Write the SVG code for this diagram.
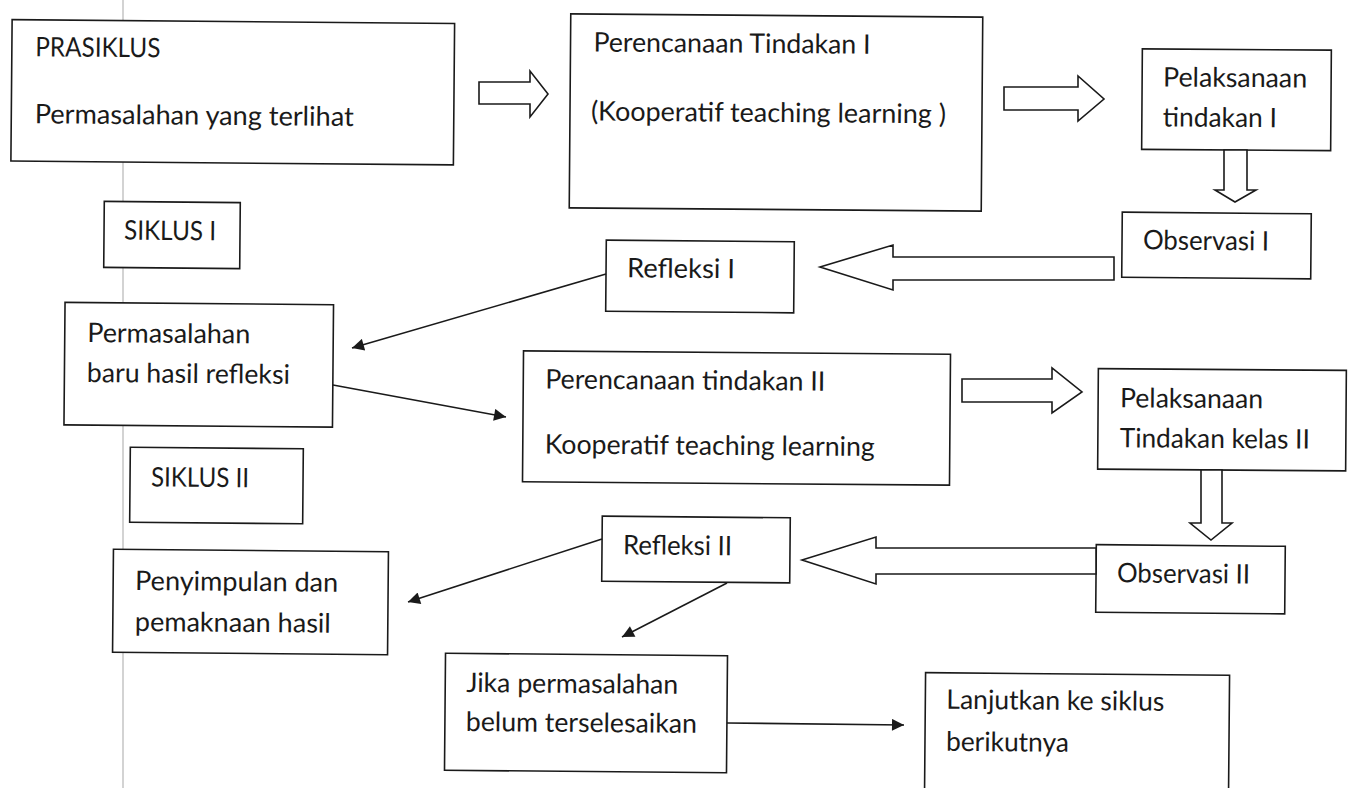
<svg xmlns="http://www.w3.org/2000/svg" width="1348" height="788" viewBox="0 0 1348 788">
<style>
.bx{fill:#fff;stroke:#1a1a1a;stroke-width:1.6}
.t{font-family:Lato,"Liberation Sans",sans-serif;font-size:27px;fill:#1a1a1a}
.ha{fill:#fff;stroke:#1a1a1a;stroke-width:1.6;stroke-linejoin:miter}
.ln{fill:none;stroke:#1a1a1a;stroke-width:1.6}
</style>
<defs>
<marker id="ah" viewBox="0 0 10 10" refX="10" refY="5" markerWidth="15" markerHeight="12" markerUnits="userSpaceOnUse" orient="auto"><path d="M0,0 L10,5 L0,10 z" fill="#1a1a1a"/></marker>
</defs>
<rect width="1348" height="788" fill="#fff"/>
<line x1="123" y1="0" x2="123" y2="788" stroke="#c4c4c4" stroke-width="1.5"/>

<g id="prasiklus" transform="rotate(0.5 233 92)">
<rect class="bx" x="11.5" y="21.5" width="442.5" height="141.5"/>
<text class="t" x="35" y="58" textLength="125" lengthAdjust="spacingAndGlyphs">PRASIKLUS</text>
<text class="t" x="35" y="125" textLength="319" lengthAdjust="spacingAndGlyphs">Permasalahan yang terlihat</text>
</g>
<g id="perencanaan1" transform="rotate(0.45 776 112)">
<rect class="bx" x="570" y="15.5" width="412" height="194"/>
<text class="t" x="593" y="53" textLength="277" lengthAdjust="spacingAndGlyphs">Perencanaan Tindakan I</text>
<text class="t" x="591" y="122" textLength="355" lengthAdjust="spacingAndGlyphs">(Kooperatif teaching learning )</text>
</g>
<g id="pelaksanaan1" transform="rotate(0.4 1236 100)">
<rect class="bx" x="1142" y="49.5" width="189" height="100.5"/>
<text class="t" x="1163" y="87" textLength="144" lengthAdjust="spacingAndGlyphs">Pelaksanaan</text>
<text class="t" x="1163" y="127" textLength="114" lengthAdjust="spacingAndGlyphs">tindakan I</text>
</g>
<g id="observasi1" transform="rotate(0.5 1216 245)">
<rect class="bx" x="1122" y="213" width="189" height="65"/>
<text class="t" x="1143" y="250" textLength="126" lengthAdjust="spacingAndGlyphs">Observasi I</text>
</g>
<g id="refleksi1" transform="rotate(0.5 700 276)">
<rect class="bx" x="606" y="241" width="188" height="71"/>
<text class="t" x="627" y="278" textLength="108" lengthAdjust="spacingAndGlyphs">Refleksi  I</text>
</g>
<g id="siklus1" transform="rotate(0.5 172 235)">
<rect class="bx" x="104" y="202" width="136" height="66"/>
<text class="t" x="124" y="240" textLength="92" lengthAdjust="spacingAndGlyphs">SIKLUS I</text>
</g>
<g id="permasalahan-baru" transform="rotate(0.5 198 365)">
<rect class="bx" x="64.5" y="303.5" width="268.5" height="122.5"/>
<text class="t" x="87" y="343" textLength="163" lengthAdjust="spacingAndGlyphs">Permasalahan</text>
<text class="t" x="87" y="383" textLength="203" lengthAdjust="spacingAndGlyphs">baru hasil refleksi</text>
</g>
<g id="siklus2" transform="rotate(0.5 216 485)">
<rect class="bx" x="130" y="448" width="173" height="75"/>
<text class="t" x="151" y="487" textLength="98" lengthAdjust="spacingAndGlyphs">SIKLUS II</text>
</g>
<g id="perencanaan2" transform="rotate(0.45 736 418)">
<rect class="bx" x="523" y="352.5" width="427" height="131"/>
<text class="t" x="545" y="390" textLength="280" lengthAdjust="spacingAndGlyphs">Perencanaan tindakan II</text>
<text class="t" x="545" y="455" textLength="330" lengthAdjust="spacingAndGlyphs">Kooperatif teaching learning</text>
</g>
<g id="pelaksanaan2" transform="rotate(0.4 1222 420)">
<rect class="bx" x="1098" y="369.5" width="248" height="100.5"/>
<text class="t" x="1120" y="408" textLength="143" lengthAdjust="spacingAndGlyphs">Pelaksanaan</text>
<text class="t" x="1120" y="448" textLength="190" lengthAdjust="spacingAndGlyphs">Tindakan kelas II</text>
</g>
<g id="observasi2" transform="rotate(0.5 1190 579)">
<rect class="bx" x="1096" y="545.5" width="189" height="67.5"/>
<text class="t" x="1117" y="583" textLength="133" lengthAdjust="spacingAndGlyphs">Observasi II</text>
</g>
<g id="refleksi2" transform="rotate(0.5 696 549)">
<rect class="bx" x="602" y="517" width="188" height="65"/>
<text class="t" x="623" y="555" textLength="109" lengthAdjust="spacingAndGlyphs">Refleksi II</text>
</g>
<g id="penyimpulan" transform="rotate(0.5 250 602)">
<rect class="bx" x="113" y="550.5" width="275" height="103"/>
<text class="t" x="135" y="591" textLength="203" lengthAdjust="spacingAndGlyphs">Penyimpulan dan</text>
<text class="t" x="135" y="632" textLength="196" lengthAdjust="spacingAndGlyphs">pemaknaan hasil</text>
</g>
<g id="jika" transform="rotate(0.5 586 713)">
<rect class="bx" x="445" y="654.5" width="282" height="117"/>
<text class="t" x="466" y="693" textLength="212" lengthAdjust="spacingAndGlyphs">Jika permasalahan</text>
<text class="t" x="466" y="732" textLength="231" lengthAdjust="spacingAndGlyphs">belum terselesaikan</text>
</g>
<g id="lanjutkan" transform="rotate(0.5 1077 740)">
<rect class="bx" x="925" y="674" width="304" height="130"/>
<text class="t" x="946" y="710" textLength="218" lengthAdjust="spacingAndGlyphs">Lanjutkan ke siklus</text>
<text class="t" x="946" y="752" textLength="123" lengthAdjust="spacingAndGlyphs">berikutnya</text>
</g>

<g id="connectors">
<polygon class="ha" points="479,82 530,82 530,71 548,94 530,117 530,104 479,104"/>
<polygon class="ha" points="1004,87 1078,87 1078,76 1104,99 1078,121 1078,110 1004,110"/>
<polygon class="ha" points="1224,150 1247,150 1247,190 1256,190 1235,202 1215,190 1224,190"/>
<polygon class="ha" points="1114,257 893,257 893,245 820,267 893,290 893,280 1114,280"/>
<polygon class="ha" points="962,379 1052,379 1052,368 1082,392 1052,413 1052,402 962,402"/>
<polygon class="ha" points="1201,470 1222,470 1222,523 1232,523 1211,540 1190,523 1201,523"/>
<polygon class="ha" points="1096,548 876,548 876,537 802,560 876,584 876,574 1096,574"/>
<line class="ln" x1="606" y1="274" x2="352" y2="348" marker-end="url(#ah)"/>
<line class="ln" x1="333" y1="385" x2="506" y2="417" marker-end="url(#ah)"/>
<line class="ln" x1="602" y1="539" x2="408" y2="602" marker-end="url(#ah)"/>
<line class="ln" x1="727" y1="583" x2="622" y2="637" marker-end="url(#ah)"/>
<line class="ln" x1="727" y1="723" x2="904" y2="725" marker-end="url(#ah)"/>
</g>
</svg>
